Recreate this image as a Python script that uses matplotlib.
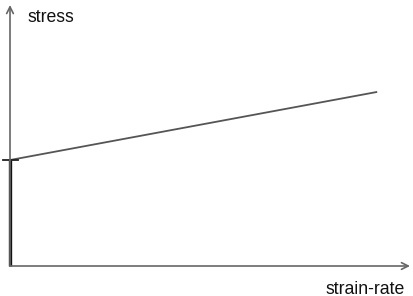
import matplotlib
matplotlib.use("Agg")
import matplotlib.pyplot as plt

# data (arbitrary units)
strain_rate = [0.0, 9.18]
stress = [4.06, 6.67]
yield_stress = 4.06
x_label = "strain-rate"
y_label = "stress"

W, H = 413, 296
fig = plt.figure(figsize=(W / 100, H / 100), dpi=100)
ax = fig.add_axes([10 / W, 30 / H, 400 / W, 261 / H])
ax.set_xlim(0, 10)
ax.set_ylim(0, 10)
ax.axis("off")

axis_col = "#666666"
# axes arrows
ax.annotate("", xy=(1.0, 0), xytext=(0, 0), xycoords="axes fraction",
            arrowprops=dict(arrowstyle="->", color=axis_col, lw=1.2,
                            shrinkA=0, shrinkB=0, mutation_scale=12))
ax.annotate("", xy=(0, 1.0), xytext=(0, 0), xycoords="axes fraction",
            arrowprops=dict(arrowstyle="->", color=axis_col, lw=1.2,
                            shrinkA=0, shrinkB=0, mutation_scale=12))

# constitutive line
ax.plot(strain_rate, stress, color="#555555", lw=1.3, solid_capstyle="butt")
# yield stress segment (thick)
ax.plot([0, 0], [0, yield_stress], color="#111111", lw=2.4, clip_on=False,
        solid_capstyle="butt")
# tick mark at yield stress
ax.plot([-0.18, 0.2], [yield_stress, yield_stress], color="#222222", lw=1.3,
        clip_on=False)

font = ["Liberation Sans", "DejaVu Sans"]
fig.text(28 / W, 1 - 18 / H, y_label, ha="left", va="center", fontsize=12.7,
         family=font, color="#111111")
fig.text(325 / W, 1 - 289 / H, x_label, ha="left", va="center", fontsize=12.7,
         family=font, color="#111111")

fig.savefig("out.png", dpi=100)
